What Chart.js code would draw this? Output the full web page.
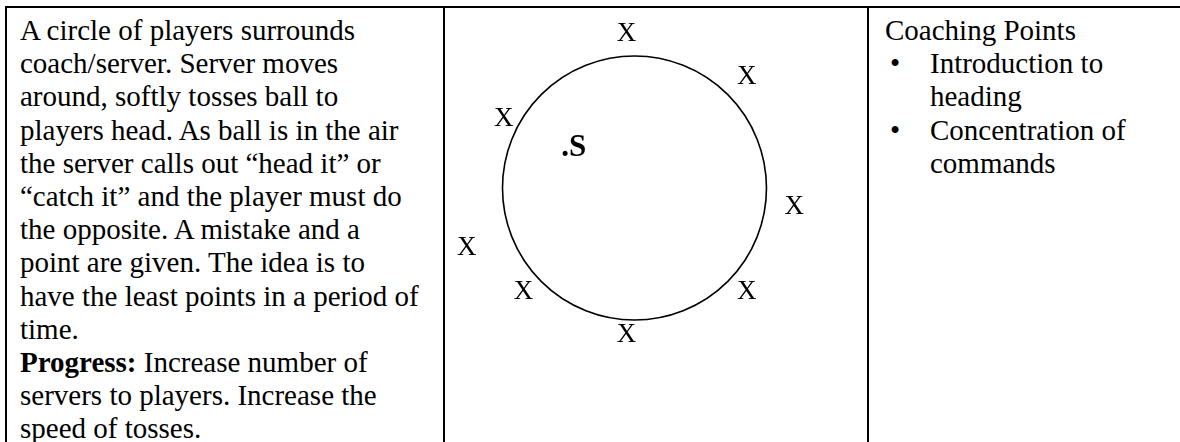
<!DOCTYPE html>
<html>
<head>
<meta charset="utf-8">
<script src="https://cdn.jsdelivr.net/npm/chart.js@4"></script>
<style>
  html, body { margin: 0; padding: 0; background: #fff; }
  body { width: 1180px; height: 442px; overflow: hidden; position: relative;
         font-family: "Liberation Serif", "Times New Roman", serif; color: #000; }
  .rule { position: absolute; background: #000; }
  .cell { position: absolute; font-size: 29px; line-height: 33.2px; white-space: nowrap; }
  .cell div { height: 33.2px; }
  .bullet { position: absolute; left: 0; }
  .item { padding-left: 45px; position: relative; }
  #diagram { position: absolute; left: 446px; top: 9px; }
</style>
</head>
<body>
<div class="cell" style="left:20px; top:-26px;">Head It Catch It</div>

<div class="rule" style="left:5px; top:6px; width:1175px; height:2px;"></div>
<div class="rule" style="left:5px; top:6px; width:2px; height:436px;"></div>
<div class="rule" style="left:443px; top:6px; width:2px; height:436px;"></div>
<div class="rule" style="left:867px; top:6px; width:2px; height:436px;"></div>

<div class="cell" style="left:20px; top:14px;">
  <div>A circle of players surrounds</div>
  <div>coach/server. Server moves</div>
  <div>around, softly tosses ball to</div>
  <div>players head. As ball is in the air</div>
  <div>the server calls out “head it” or</div>
  <div>“catch it” and the player must do</div>
  <div>the opposite. A mistake and a</div>
  <div>point are given. The idea is to</div>
  <div>have the least points in a period of</div>
  <div>time.</div>
  <div><b>Progress:</b> Increase number of</div>
  <div>servers to players. Increase the</div>
  <div>speed of tosses.</div>
</div>

<div class="cell" style="left:885px; top:14px;">
  <div>Coaching Points</div>
  <div class="item"><span class="bullet" style="left:5px;">•</span>Introduction to</div>
  <div class="item">heading</div>
  <div class="item"><span class="bullet" style="left:5px;">•</span>Concentration of</div>
  <div class="item">commands</div>
</div>

<canvas id="diagram" width="420" height="433"></canvas>

<script>
// field units: circle radius = 10, centre at 0,0
const circleCentre = [{ x: 0, y: 0 }];
const circleRadius = 10;

const playerX = [-0.6, 8.5, -9.9, 12.1, -12.7, -8.4, 8.5, -0.6];
const playerY = [11.7, 8.4, 5.2, -1.4, -4.5, -7.9, -7.9, -11.1];
const playerLabel = "X";

const serverX = [-4.6];
const serverY = [3.0];
const serverLabel = ".S";

const toPoints = (xs, ys) => xs.map((x, i) => ({ x, y: ys[i] }));

// draws the dataset's label text at each of its points
const textMarks = {
  id: "textMarks",
  afterDatasetsDraw(chart) {
    const ctx = chart.ctx;
    chart.data.datasets.forEach((ds, i) => {
      if (!ds.markText) return;
      const meta = chart.getDatasetMeta(i);
      ctx.save();
      ctx.fillStyle = "#000";
      ctx.font = ds.markFont;
      ctx.textAlign = "center";
      ctx.textBaseline = "middle";
      meta.data.forEach((pt) => ctx.fillText(ds.markText, pt.x, pt.y));
      ctx.restore();
    });
  }
};

new Chart(document.getElementById("diagram"), {
  type: "scatter",
  data: {
    datasets: [
      {
        label: "circle",
        data: circleCentre,
        pointRadius: (c) => {
          const s = c.chart.scales.x;
          return Math.abs(s.getPixelForValue(circleRadius) - s.getPixelForValue(0));
        },
        pointBorderColor: "#000",
        pointBackgroundColor: "rgba(0,0,0,0)",
        pointBorderWidth: 1.6
      },
      {
        label: "players",
        data: toPoints(playerX, playerY),
        pointRadius: 0,
        markText: playerLabel,
        markFont: "27px 'Liberation Serif'"
      },
      {
        label: "server",
        data: toPoints(serverX, serverY),
        pointRadius: 0,
        markText: serverLabel,
        markFont: "bold 31px 'Liberation Serif'"
      }
    ]
  },
  options: {
    responsive: false,
    animation: false,
    events: [],
    layout: { padding: 0 },
    plugins: { legend: { display: false }, tooltip: { enabled: false } },
    scales: {
      x: { type: "linear", display: false, min: -14.28, max: 17.54 },
      y: { type: "linear", display: false, min: -19.24, max: 13.56 }
    }
  },
  plugins: [textMarks]
});
</script>
</body>
</html>
